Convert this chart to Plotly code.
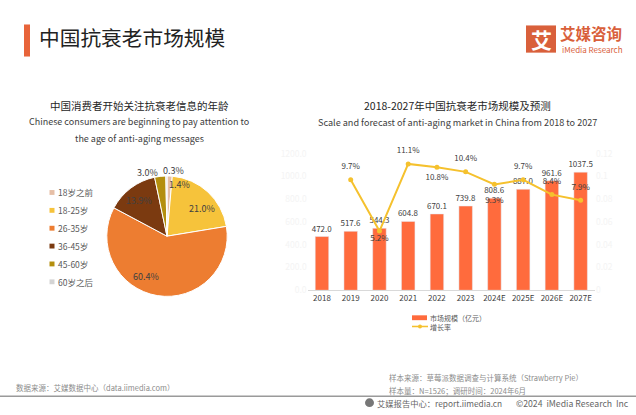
#!/usr/bin/env python3
# iiMedia slide: anti-aging market in China (age pie + market size bars with growth line)
import plotly.graph_objects as go

W, H = 636, 415
FONT = "Noto Sans CJK SC"
DARK = "#404040"
GREY = "#8c8c8c"

# pie data
age_labels = ["18岁之前", "18-25岁", "26-35岁", "36-45岁", "45-60岁", "60岁之后"]
age_values = [1.4, 21.0, 60.4, 13.9, 3.0, 0.3]
age_colors = ["#E6BFA6", "#F6C33B", "#ED7D31", "#7B3A10", "#B48F0E", "#D4D4D4"]

# bar + line data
years = ["2018", "2019", "2020", "2021", "2022", "2023", "2024E", "2025E", "2026E", "2027E"]
market_size = [472.0, 517.6, 544.3, 604.8, 670.1, 739.8, 808.6, 887.0, 961.6, 1037.5]
growth = [None, 0.097, 0.052, 0.111, 0.108, 0.104, 0.093, 0.097, 0.084, 0.079]
growth_pos = ["top center", "top center", "bottom center", "top center", "bottom center",
              "top center", "bottom center", "top center", "top center", "top center"]
left_ticks = [0, 200, 400, 600, 800, 1000, 1200]
right_ticks = [0, 0.02, 0.04, 0.06, 0.08, 0.1, 0.12]
right_tick_text = ["0", "0.02", "0.04", "0.06", "0.08", "0.1", "0.12"]
# invisible marker sizes, they only push the growth labels away from the line
label_gap = [5, 12, 5, 12, 9, 12, 18, 12, 12, 12]


def px(x):
    return x / W


def py(y):
    return 1 - y / H


def note(x, y, text, size=9, color=DARK, anchor="left", font=FONT):
    return dict(x=px(x), y=py(y), xref="paper", yref="paper", text=text, showarrow=False,
                xanchor=anchor, yanchor="middle", font=dict(size=size, color=color, family=font))


def box(x0, y0, x1, y1, color, kind="rect"):
    return dict(type=kind, xref="paper", yref="paper", x0=px(x0), x1=px(x1), y0=py(y0), y1=py(y1),
                fillcolor=color, line=dict(width=0))


fig = go.Figure()

fig.add_trace(go.Pie(
    labels=age_labels, values=age_values, sort=False, direction="clockwise", rotation=0,
    marker=dict(colors=age_colors, line=dict(color="white", width=1)),
    textinfo="none", showlegend=False, hole=0,
    domain=dict(x=[px(105), px(229)], y=[py(298), py(174)]),
))

fig.add_trace(go.Bar(
    x=years, y=market_size, marker_color="#FF6B3D", width=0.47, showlegend=False,
    text=[f"{v:.1f}" for v in market_size], textposition="outside", cliponaxis=False,
    constraintext="none", textfont=dict(size=8, color=DARK, family=FONT),
))

fig.add_trace(go.Scatter(
    x=years, y=growth, yaxis="y2", mode="lines+markers", showlegend=False,
    line=dict(color="#F5C12E", width=2), marker=dict(color="#F5C12E", size=5),
))

fig.add_trace(go.Scatter(
    x=years, y=growth, yaxis="y2", mode="markers+text", showlegend=False,
    marker=dict(size=label_gap, opacity=0),
    text=[f"{v * 100:.1f}%" if v else "" for v in growth], textposition=growth_pos,
    textfont=dict(size=8, color=DARK, family=FONT), cliponaxis=False,
))

annotations = [
    note(37, 31, "中国抗衰老市场规模", 20.7, "#222222"),
    note(139.5, 101, "中国消费者开始关注抗衰老信息的年龄", 10.5, "#262626", "center"),
    note(139, 118, "Chinese consumers are beginning to pay attention to", 9, DARK, "center"),
    note(139, 135, "the age of anti-aging messages", 9, DARK, "center"),
    note(457, 101, "2018-2027年中国抗衰老市场规模及预测", 10.5, "#262626", "center"),
    note(457, 118, "Scale and forecast of anti-aging market in China from 2018 to 2027", 9.1, DARK, "center"),
    # logo
    note(541, 33, "<b>艾</b>", 21, "white", "center"),
    note(558, 27, "<b>艾媒咨询</b>", 15.5, "#D9603B"),
    note(560, 44, "iMedia Research", 8, "#D9603B"),
    # pie value labels
    note(173, 168, "0.3%", 9, DARK, "center"),
    note(147, 170, "3.0%", 9, DARK, "center"),
    note(179, 183, "1.4%", 9, DARK, "center"),
    note(202, 208, "21.0%", 9, DARK, "center"),
    note(139, 199, "13.9%", 9, DARK, "center"),
    note(146, 278, "60.4%", 9, DARK, "center"),
    # bar legend
    note(428, 320, "市场规模（亿元）", 7, "#595959"),
    note(428, 329.5, "增长率", 7, "#595959"),
    # footer
    note(14, 392, "数据来源：艾媒数据中心（data.iimedia.com）", 7.5, GREY),
    note(387, 382, "样本来源：草莓派数据调查与计算系统（Strawberry Pie）", 7.5, GREY),
    note(387, 395, "样本量：N=1526；调研时间：2024年6月", 7.5, GREY),
    note(375, 408, "艾媒报告中心：report.iimedia.cn", 8.3, "#666666"),
    note(514, 408, "©2024  iMedia Research  Inc", 8.7, "#666666"),
]

shapes = [
    box(24, 18, 30, 51, "#E8643A"),
    box(526, 19, 556, 47, "#D9603B"),
    box(0, 400, 636, 401.5, "#9a9a9a"),
    box(365, 403, 374, 412, "#777777", "circle"),
    box(412, 317.5, 427, 322.5, "#FF6B3D"),
    box(412, 328.2, 428, 329.8, "#F5C12E"),
    box(418, 327, 422, 331, "#F5C12E", "circle"),
]

# pie legend
for i, (label, color) in enumerate(zip(age_labels, age_colors)):
    row_y = 191 + i * 18.4
    shapes.append(box(49.5, row_y - 2.5, 54.5, row_y + 2.5, color))
    annotations.append(note(56, row_y, label, 8.5, "#595959"))

fig.update_layout(
    width=W, height=H, autosize=False, margin=dict(l=0, r=0, t=0, b=0),
    paper_bgcolor="white", plot_bgcolor="white",
    font=dict(family=FONT), showlegend=False, bargap=0.53,
    annotations=annotations, shapes=shapes,
    xaxis=dict(domain=[px(307.6), px(595)], type="category", range=[-0.5, 9.5], showgrid=False, ticks="",
               showline=True, linecolor="#d9d9d9", linewidth=1,
               tickfont=dict(size=8, color=DARK, family=FONT)),
    yaxis=dict(domain=[py(291.7), py(151)], range=[0, 1200], showgrid=False, zeroline=False,
               tickvals=left_ticks, ticktext=[f"{v:.1f}" for v in left_ticks],
               tickfont=dict(size=8.5, color="#f4f4f4", family=FONT)),
    yaxis2=dict(overlaying="y", side="right", range=[0, 0.12], showgrid=False, zeroline=False,
                tickvals=right_ticks, ticktext=right_tick_text,
                tickfont=dict(size=8.5, color="#f4f4f4", family=FONT)),
)

fig.write_html("out.html", config={"displayModeBar": False},
               post_script="document.body.style.margin='0'")
